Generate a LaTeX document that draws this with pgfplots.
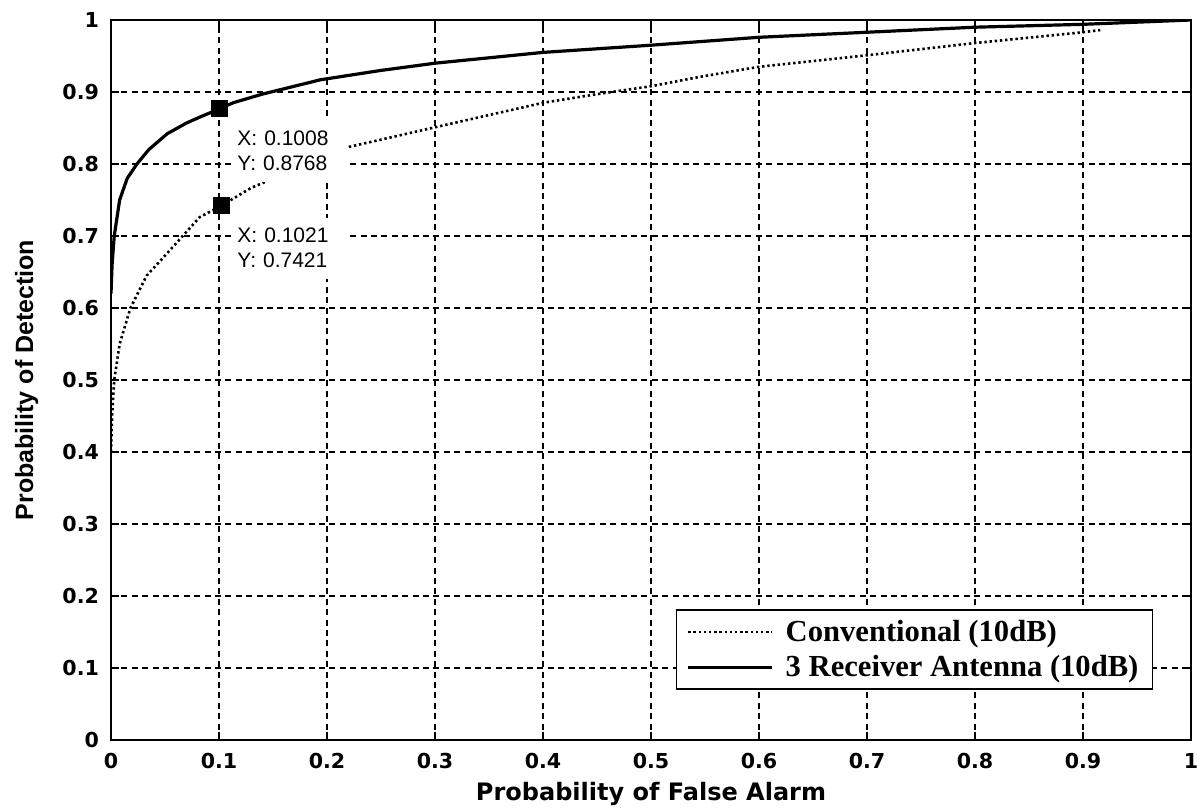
\documentclass[border=0pt]{standalone}
\usepackage{fontspec}
\setmainfont{Liberation Sans}[BoldFont={Liberation Sans Bold}]
\newfontfamily\legfont{Liberation Serif}[BoldFont={Liberation Serif Bold}]
\newfontfamily\widefont{DejaVu Sans}
\usepackage{pgfplots}
\pgfplotsset{compat=1.18}

\begin{document}
\begin{tikzpicture}
\begin{axis}[
  scale only axis,
  width=540pt, height=360pt,
  xmin=0, xmax=1, ymin=0, ymax=1,
  xtick={0,0.1,...,1.01}, ytick={0,0.1,...,1.01},
  xticklabels={0,0.1,0.2,0.3,0.4,0.5,0.6,0.7,0.8,0.9,1},
  yticklabels={0,0.1,0.2,0.3,0.4,0.5,0.6,0.7,0.8,0.9,1},
  /pgf/number format/assume math mode=true,
  ticklabel style={font=\widefont\fontsize{10.3}{12}\selectfont\bfseries},
  xticklabel style={yshift=-3pt},
  yticklabel style={xshift=-2.5pt},
  tick align=inside,
  major tick length=4pt,
  tick style={black, line width=0.8pt},
  axis line style={line width=1.2pt},
  grid=major,
  major grid style={black, line width=0.9pt, dash pattern=on 3pt off 2.2pt},
  xlabel={Probability of False Alarm},
  ylabel={Probability of Detection},
  xlabel style={font=\widefont\fontsize{12}{14}\selectfont\bfseries,
    at={(axis description cs:0.5,-0.075)}, anchor=center},
  ylabel style={font=\fontsize{12.5}{14}\selectfont\bfseries,
    at={(axis description cs:-0.078,0.5)}, anchor=center, rotate=0},
  legend style={
    at={(0.965,0.0694)}, anchor=south east,
    draw=black, line width=0.8pt,
    font=\legfont\fontsize{15.3}{16}\selectfont\bfseries,
    legend cell align=left, inner xsep=5pt, inner ysep=3pt, row sep=1.5pt,
    /tikz/every odd column/.append style={column sep=4pt},
  },
  legend image code/.code={\draw[#1] (0pt,0pt) -- (42pt,0pt);},
]
\addplot[black, line width=1.3pt, dash pattern=on 1.2pt off 1.4pt] coordinates {
  (0,0.40) (0.001,0.45) (0.003,0.50) (0.008,0.55) (0.018,0.60) (0.033,0.645)
  (0.052,0.676) (0.082,0.726) (0.1021,0.7421) (0.13,0.767) (0.16,0.786)
  (0.19,0.806) (0.221,0.824) (0.268,0.840) (0.30,0.851) (0.35,0.868)
  (0.40,0.885) (0.45,0.897) (0.50,0.908) (0.545,0.921) (0.60,0.935)
  (0.70,0.951) (0.80,0.968) (0.90,0.983) (0.916,0.986)
};
\addlegendentry{Conventional (10dB)}
\addplot[black, line width=1.6pt] coordinates {
  (0,0.62) (0.001,0.66) (0.003,0.70) (0.008,0.75) (0.015,0.78) (0.024,0.80)
  (0.035,0.82) (0.052,0.842) (0.07,0.857) (0.082,0.865) (0.1008,0.8768)
  (0.113,0.885) (0.14,0.897) (0.194,0.917) (0.25,0.930) (0.30,0.940)
  (0.40,0.955) (0.50,0.965) (0.60,0.976) (0.70,0.983) (0.80,0.990)
  (0.90,0.994) (1,1)
};
\addlegendentry{3 Receiver Antenna (10dB)}
% data tips
\addplot[only marks, mark=square*, mark size=4pt, black, forget plot] coordinates {
  (0.1008,0.8768) (0.1021,0.7421)
};
\node[fill=white, anchor=south west, align=left, inner xsep=2pt, inner ysep=0pt,
  text width=53pt, minimum height=30.6pt,
  font=\fontsize{10.5}{12.5}\selectfont] at (axis cs:0.113,0.775)
  {X: 0.1008\\Y: 0.8768};
\node[fill=white, anchor=south west, align=left, inner xsep=2pt, inner ysep=0pt,
  text width=53pt, minimum height=30.6pt,
  font=\fontsize{10.5}{12.5}\selectfont] at (axis cs:0.113,0.64)
  {X: 0.1021\\Y: 0.7421};
\end{axis}
\pgfresetboundingbox
\path[use as bounding box] (current axis.south west) ++(-55.5pt,-35.5pt) rectangle ++(599pt,405.5pt);
\end{tikzpicture}
\end{document}
